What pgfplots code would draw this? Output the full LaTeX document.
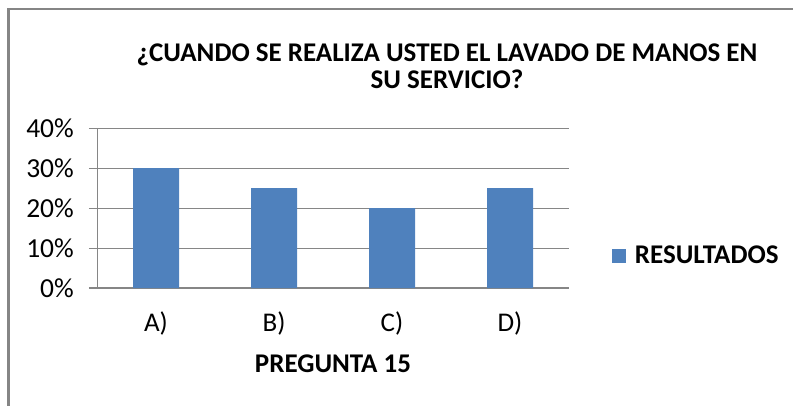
\documentclass[border=0pt]{standalone}
\usepackage{pgfplots}
\pgfplotsset{compat=1.18}
\usepackage{fontspec}
\setmainfont{Carlito}
\definecolor{barblue}{HTML}{4F81BD}
\definecolor{gridgray}{HTML}{868686}
\definecolor{framegray}{HTML}{858585}
\begin{document}
\begin{tikzpicture}
\useasboundingbox (0pt,0pt) rectangle (793pt,-406pt);
\draw[framegray, line width=2.5pt] (8.5pt,-430pt) -- (8.5pt,-9pt) -- (820pt,-9pt);
\begin{axis}[
  at={(97pt,-288pt)}, anchor=south west,
  scale only axis, width=472pt, height=160pt,
  xmin=-0.5, xmax=3.5, ymin=0, ymax=40,
  axis x line*=bottom, axis y line*=left,
  axis line style={gridgray, line width=1pt, -},
  xtick={0,1,2,3}, xticklabels={A),B),C),D)},
  xtick style={draw=none},
  ytick={0,10,20,30,40},
  ymajorgrids, grid style={gridgray, line width=1pt},
  ytick style={gridgray, line width=1pt},
  tick align=outside, major tick length=8pt,
  /pgf/number format/assume math mode=true,
  yticklabel={\pgfmathprintnumber{\tick}\%},
  yticklabel style={font=\fontsize{27.5}{31}\selectfont, anchor=east, inner sep=0pt, xshift=-15pt},
  xticklabel style={font=\fontsize{27}{31}\selectfont, anchor=base, inner sep=0pt, yshift=-35pt},
  ybar, bar width=46pt,
  legend style={draw=none, fill=none, inner sep=0pt, outer sep=0pt,
    at={(1.091,0.203)}, anchor=west, font=\fontsize{27}{31}\selectfont\bfseries,
    /tikz/every even column/.append style={column sep=0pt}},
  legend image code/.code={\fill[barblue] (0pt,-7pt) rectangle (14pt,7pt); \path (21pt,0pt);},
  clip=false,
]
\addplot[fill=barblue, draw=none] coordinates {(0,30) (1,25) (2,20) (3,25)};
\addlegendentry{RESULTADOS}
\end{axis}
\node[anchor=base, font=\fontsize{27}{31}\selectfont\bfseries, inner sep=0pt] at (447pt,-62pt) {¿CUANDO SE REALIZA USTED EL LAVADO DE MANOS EN};
\node[anchor=base, font=\fontsize{27}{31}\selectfont\bfseries, inner sep=0pt] at (447pt,-89pt) {SU SERVICIO?};
\node[anchor=base, font=\fontsize{27}{31}\selectfont\bfseries, inner sep=0pt] at (333pt,-372pt) {PREGUNTA 15};
\end{tikzpicture}
\end{document}
